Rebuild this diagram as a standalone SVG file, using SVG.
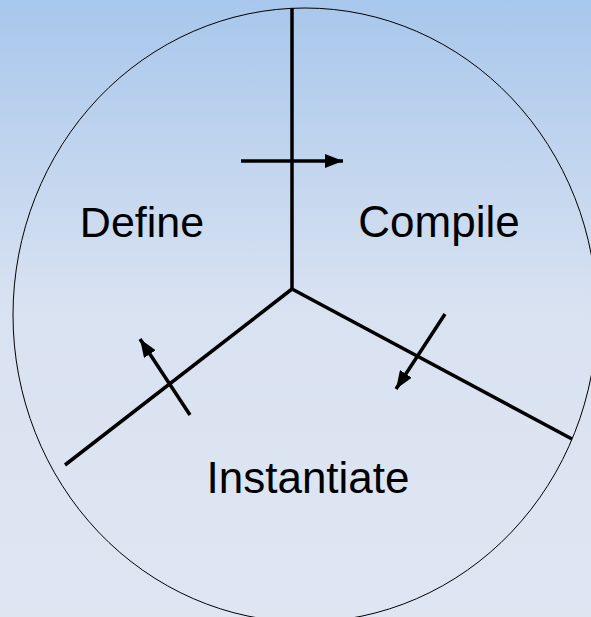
<svg xmlns="http://www.w3.org/2000/svg" width="591" height="617" viewBox="0 0 591 617">
  <defs>
    <linearGradient id="bg" x1="0" y1="0" x2="0" y2="1">
      <stop offset="0" stop-color="#a8c7ec"/>
      <stop offset="0.5" stop-color="#d9e2f1"/>
      <stop offset="1" stop-color="#dfe6f2"/>
    </linearGradient>
    <marker id="ah" markerUnits="userSpaceOnUse" markerWidth="20" markerHeight="14" refX="18" refY="7" orient="auto">
      <path d="M0,0 L18,7 L0,14 Z" fill="#000"/>
    </marker>
    <style>
      .div { stroke:#000; stroke-width:3.5; fill:none; stroke-linecap:butt; }
      .arr { stroke:#000; stroke-width:3.5; fill:none; marker-end:url(#ah); }
      .lbl { font-family:"Liberation Sans", Arial, Helvetica, sans-serif; font-size:44px; fill:#000; text-anchor:middle; }
    </style>
  </defs>
  <rect x="0" y="0" width="591" height="617" fill="url(#bg)"/>
  <g id="cycle">
    <ellipse cx="305" cy="315" rx="292" ry="307" fill="none" stroke="#000" stroke-width="1"/>
  </g>
  <g id="connectors">
    <path class="div" d="M292,8 L292,289"/>
    <path class="div" d="M292,289 L65,465"/>
    <path class="div" d="M292,289 L572,439"/>
    <line class="arr" x1="241" y1="161" x2="343" y2="161"/>
    <line class="arr" x1="190" y1="415" x2="140" y2="339"/>
    <line class="arr" x1="445" y1="314" x2="396" y2="389"/>
  </g>
  <g id="define"><text class="lbl" x="142" y="237" style="font-size:43px">Define</text></g>
  <g id="compile"><text class="lbl" x="439" y="237">Compile</text></g>
  <g id="instantiate"><text class="lbl" x="308" y="493">Instantiate</text></g>
</svg>
